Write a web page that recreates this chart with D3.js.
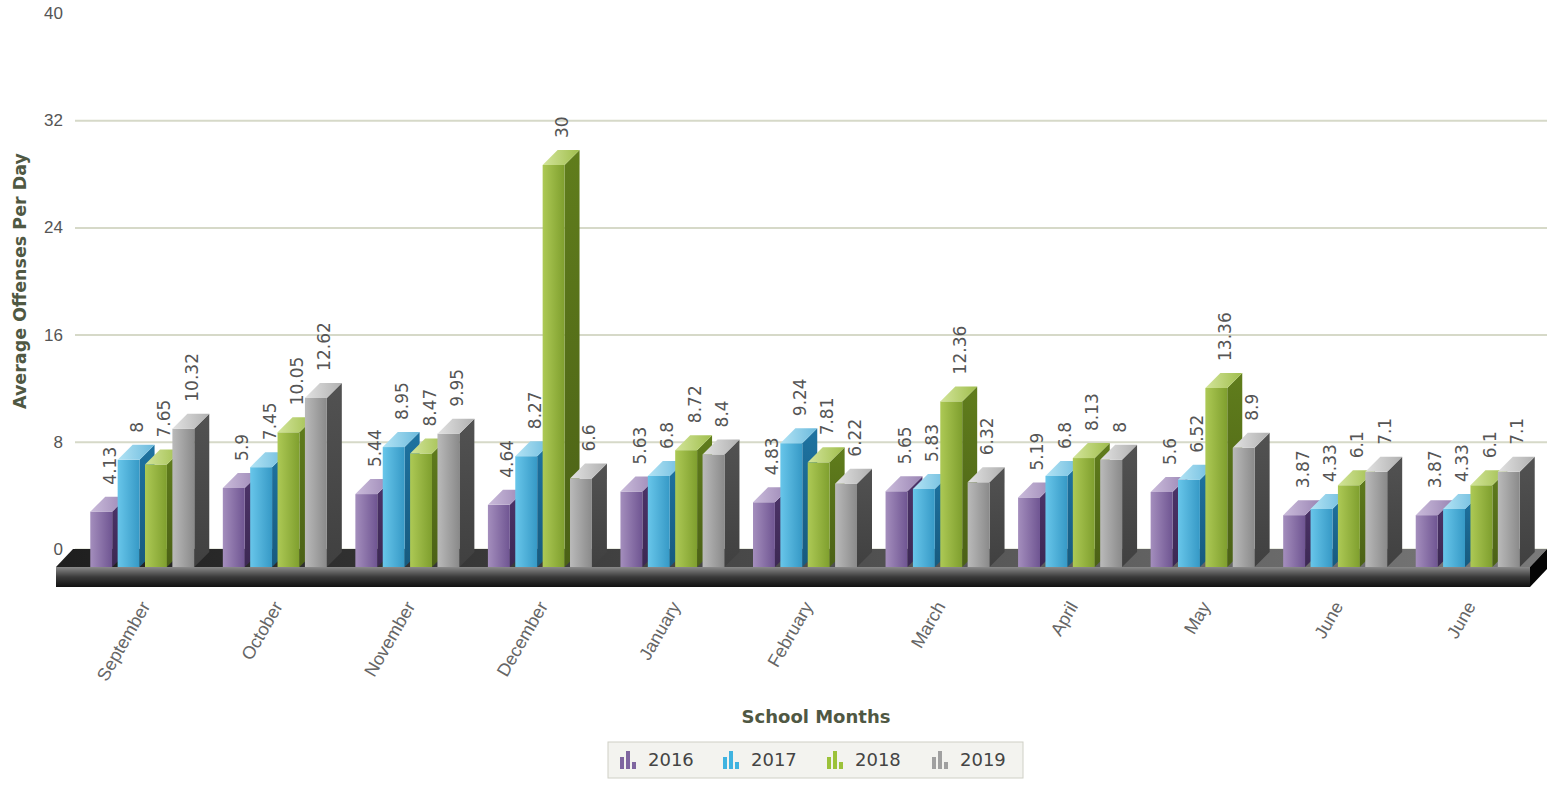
<!DOCTYPE html>
<html><head><meta charset="utf-8">
<script src="https://cdn.jsdelivr.net/npm/d3@7/dist/d3.min.js"></script>
<style>body{margin:0;background:#fff;} svg{display:block;font-family:"DejaVu Sans",Verdana,sans-serif;}</style>
</head><body><svg id="c" width="1547" height="787"></svg>
<script>
const months = ["September","October","November","December","January","February","March","April","May","June","June"];
const seriesNames = ["2016","2017","2018","2019"];
const v2016 = [4.13,5.9,5.44,4.64,5.63,4.83,5.65,5.19,5.6,3.87,3.87];
const v2017 = [8,7.45,8.95,8.27,6.8,9.24,5.83,6.8,6.52,4.33,4.33];
const v2018 = [7.65,10.05,8.47,30,8.72,7.81,12.36,8.13,13.36,6.1,6.1];
const v2019 = [10.32,12.62,9.95,6.6,8.4,6.22,6.32,8,8.9,7.1,7.1];
const yTicks = [0,8,16,24,32,40];
const yTitle = "Average Offenses Per Day";
const xTitle = "School Months";

const seriesValues = [v2016, v2017, v2018, v2019];
const palette = {
  "2016": {fl:"#a48ebd", fr:"#6f5592", side:"#432d5c", tl:"#cbbcdb", tr:"#9a85b4", icon:"#7f66a0"},
  "2017": {fl:"#68c6ea", fr:"#3699c6", side:"#1a648c", tl:"#b3e4f5", tr:"#6ab9dc", icon:"#3fb3e0"},
  "2018": {fl:"#adc955", fr:"#7f9f2e", side:"#536c18", tl:"#d3e59a", tr:"#9fbd4c", icon:"#9cc23a"},
  "2019": {fl:"#bababa", fr:"#8a8a8a", side:"#474747", tl:"#e2e2e2", tr:"#b0b0b0", icon:"#a0a0a0"}
};

const svg = d3.select("#c");
const defs = svg.append("defs");
seriesNames.forEach(s => {
  const p = palette[s];
  let g = defs.append("linearGradient").attr("id","front"+s).attr("x1",0).attr("x2",1).attr("y1",0).attr("y2",0);
  g.append("stop").attr("offset",0).attr("stop-color",p.fl);
  g.append("stop").attr("offset",1).attr("stop-color",p.fr);
  g = defs.append("linearGradient").attr("id","top"+s).attr("x1",0).attr("x2",1).attr("y1",0).attr("y2",0);
  g.append("stop").attr("offset",0).attr("stop-color",p.tl);
  g.append("stop").attr("offset",1).attr("stop-color",p.tr);
  g = defs.append("linearGradient").attr("id","side"+s).attr("x1",0).attr("x2",0).attr("y1",0).attr("y2",1);
  g.append("stop").attr("offset",0).attr("stop-color",d3.color(p.side).brighter(0.4));
  g.append("stop").attr("offset",1).attr("stop-color",d3.color(p.side).darker(0.3));
});
let fg = defs.append("linearGradient").attr("id","floorTop").attr("x1",0).attr("x2",1).attr("y1",0).attr("y2",0);
fg.append("stop").attr("offset",0).attr("stop-color","#1e1e1e");
fg.append("stop").attr("offset",1).attr("stop-color","#7a7a7a");
fg = defs.append("linearGradient").attr("id","floorFront").attr("x1",0).attr("x2",0).attr("y1",0).attr("y2",1);
fg.append("stop").attr("offset",0).attr("stop-color","#8a8a8a");
fg.append("stop").attr("offset",0.5).attr("stop-color","#3a3a3a");
fg.append("stop").attr("offset",1).attr("stop-color","#111");

// scales
const backLeft = 75, backRight = 1547;
const y = d3.scaleLinear().domain([0,40]).range([549,13]);
const floorDx = 17, floorDy = 18;
const yF = v => y(v) + floorDy;
const x = d3.scaleBand().domain(d3.range(months.length)).range([76,1534]);
const x1 = d3.scaleBand().domain(seriesNames).range([-52,52]).paddingInner(0.2);
const depth = 15;

// grid + y axis
const yAxis = d3.axisLeft(y).tickValues(yTicks).tickSize(-(backRight-backLeft)).tickPadding(12);
const ga = svg.append("g").attr("transform",`translate(${backLeft},0)`).call(yAxis);
ga.select(".domain").remove();
ga.selectAll(".tick line").attr("stroke","#d6d9c8").attr("stroke-width",2)
  .attr("opacity", d => d===40 ? 0 : 1);
ga.selectAll(".tick text").attr("fill","#555").style("font-size","17px");

// floor
const fL = 56, fR = 1530, fT = yF(0), fH = 20;
svg.append("polygon").attr("points",[[fL,fT],[fL+floorDx,fT-floorDy],[fR+floorDx,fT-floorDy],[fR,fT]].join(" "))
  .attr("fill","url(#floorTop)");
svg.append("rect").attr("x",fL).attr("y",fT).attr("width",fR-fL).attr("height",fH).attr("fill","url(#floorFront)");
svg.append("polygon").attr("points",[[fR,fT],[fR+floorDx,fT-floorDy],[fR+floorDx,fT-floorDy+fH],[fR,fT+fH]].join(" "))
  .attr("fill","#050505");

// bars
const barsG = svg.append("g");
const labelsG = svg.append("g");
months.forEach((m,i) => {
  const cx = x(i) + x.bandwidth()/2;
  seriesNames.forEach((s,si) => {
    const v = seriesValues[si][i];
    const x0 = cx + x1(s), w = x1.bandwidth();
    const yt = yF(v), yb = yF(0);
    const g = barsG.append("g");
    g.append("polygon").attr("points",[[x0+w,yt],[x0+w+depth,yt-depth],[x0+w+depth,yb-depth],[x0+w,yb]].join(" "))
      .attr("fill","url(#side"+s+")");
    g.append("rect").attr("x",x0).attr("y",yt).attr("width",w).attr("height",yb-yt).attr("fill","url(#front"+s+")");
    g.append("polygon").attr("points",[[x0,yt],[x0+depth,yt-depth],[x0+w+depth,yt-depth],[x0+w,yt]].join(" "))
      .attr("fill","url(#top"+s+")");
    labelsG.append("text")
      .attr("transform",`translate(${x0 + (w+depth)/2 + 1},${yt-depth-12}) rotate(-90)`)
      .attr("dy","0.35em").attr("text-anchor","start")
      .attr("fill","#555").style("font-size","17px").text(String(v));
  });
});

// x labels
const xAxis = d3.axisBottom(x).tickSize(0).tickFormat(i => months[i]);
const gx = svg.append("g").attr("transform",`translate(0,${fT+fH+12})`).call(xAxis);
gx.select(".domain").remove();
gx.selectAll(".tick text")
  .attr("text-anchor","end").attr("dy","0.35em").attr("y",0).attr("x",0)
  .attr("transform","translate(3,4) rotate(-60)")
  .attr("fill","#666").style("font-size","18px");

// axis titles
svg.append("text").attr("transform","translate(20,281) rotate(-90)").attr("text-anchor","middle")
  .attr("dy","0.35em").attr("fill","#4f5843").style("font-size","17.5px").style("font-weight","bold").text(yTitle);
svg.append("text").attr("x",816).attr("y",717).attr("text-anchor","middle").attr("dy","0.35em")
  .attr("fill","#4f5843").style("font-size","18px").style("font-weight","bold").text(xTitle);

// legend
const lg = svg.append("g");
lg.append("rect").attr("x",608).attr("y",742).attr("width",415).attr("height",36)
  .attr("fill","#f3f3ef").attr("stroke","#cfd0c6");
const lx = [620,723,827,932];
seriesNames.forEach((s,i) => {
  const g = lg.append("g").attr("transform",`translate(${lx[i]},751)`);
  const c = palette[s].icon;
  g.append("rect").attr("x",0).attr("y",6).attr("width",4).attr("height",12).attr("fill",c);
  g.append("rect").attr("x",6).attr("y",0).attr("width",4).attr("height",18).attr("fill",c);
  g.append("rect").attr("x",12).attr("y",11).attr("width",4).attr("height",7).attr("fill",c);
  g.append("text").attr("x",28).attr("y",9).attr("dy","0.35em").attr("fill","#444")
    .style("font-size","18px").text(s);
});
</script></body></html>
